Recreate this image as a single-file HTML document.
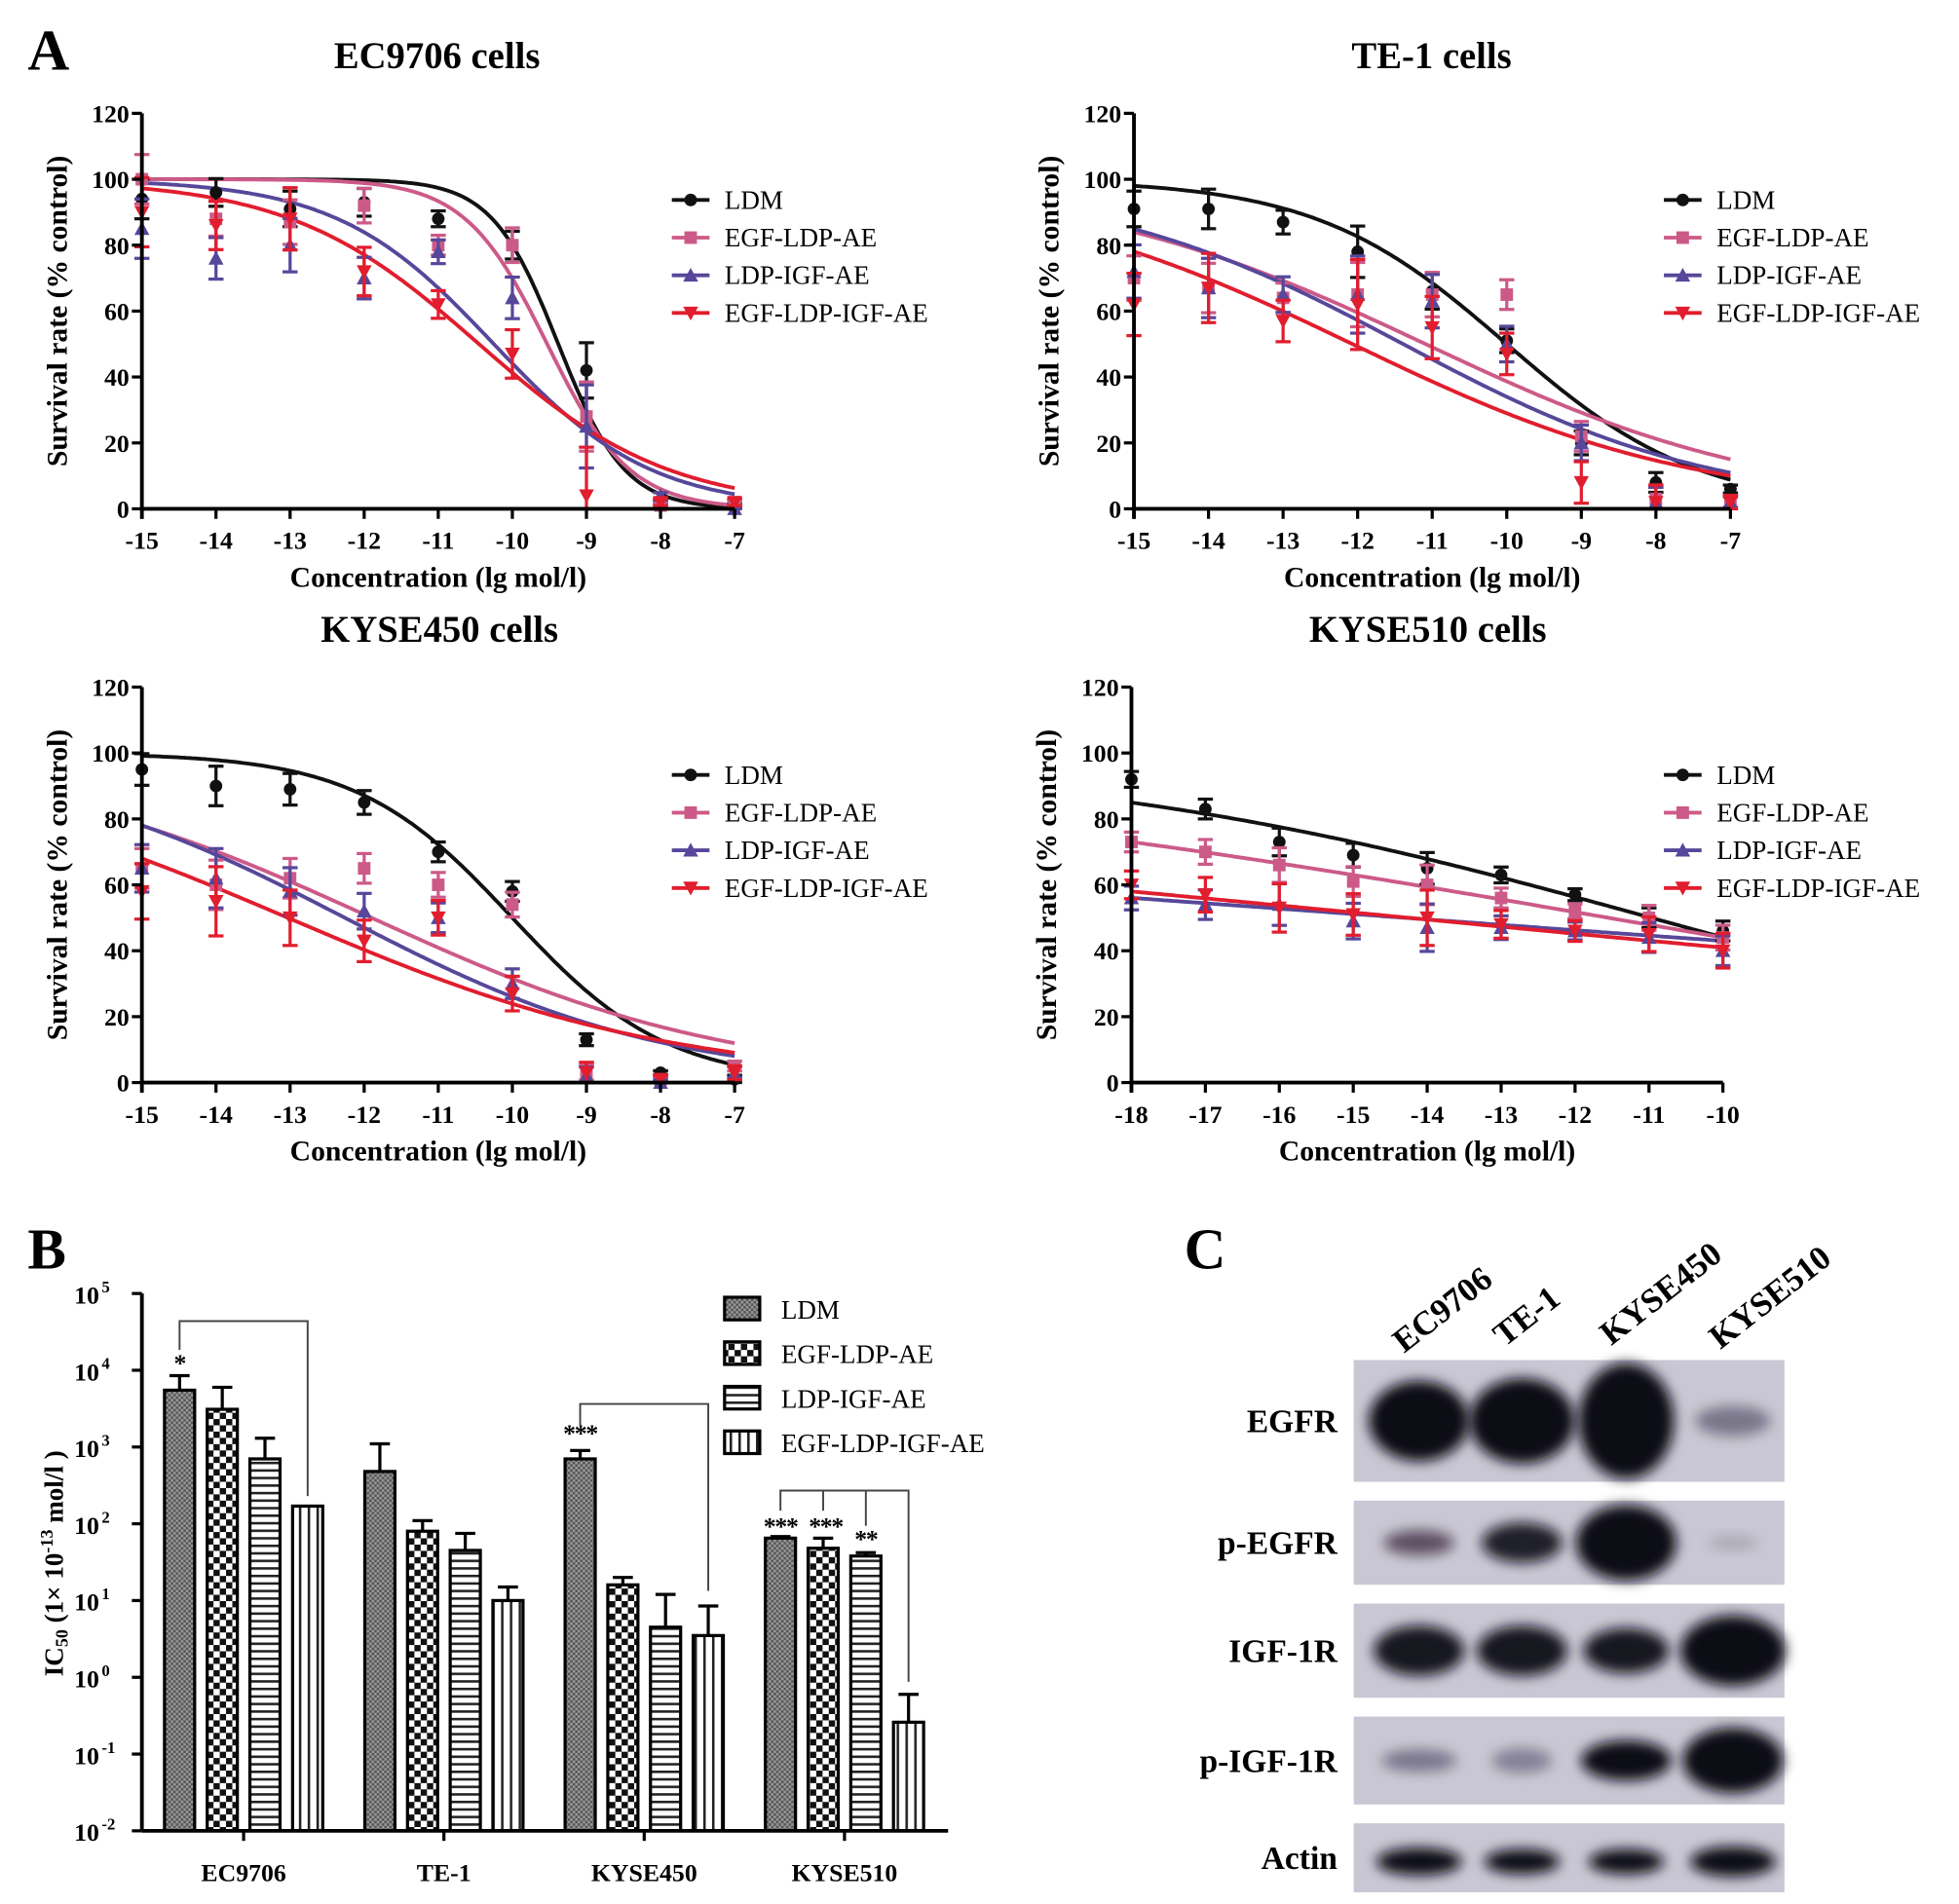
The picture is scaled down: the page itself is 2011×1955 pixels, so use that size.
<!DOCTYPE html>
<html><head><meta charset="utf-8"><style>
html,body{margin:0;padding:0;background:#fff}
svg{display:block}
text{font-family:"Liberation Serif",serif}
</style></head><body>
<svg id="fig" width="2011" height="1955" viewBox="0 0 1560 1516" xmlns="http://www.w3.org/2000/svg">
<defs>
<pattern id="pDots" width="4" height="4" patternUnits="userSpaceOnUse"><rect width="4" height="4" fill="#999"/><rect width="2" height="2" fill="#555"/><rect x="2" y="2" width="2" height="2" fill="#555"/></pattern>
<pattern id="pCheck" width="10" height="10" patternUnits="userSpaceOnUse"><rect width="10" height="10" fill="#fff"/><rect width="5" height="5" fill="#111"/><rect x="5" y="5" width="5" height="5" fill="#111"/></pattern>
<pattern id="pH" width="6" height="6" patternUnits="userSpaceOnUse"><rect width="6" height="6" fill="#fff"/><rect width="6" height="2" fill="#222"/></pattern>
<pattern id="pV" width="7" height="7" patternUnits="userSpaceOnUse"><rect width="7" height="7" fill="#fff"/><rect width="2" height="7" fill="#222"/></pattern>
<filter id="blur" x="-50%" y="-50%" width="200%" height="200%"><feGaussianBlur stdDeviation="5"/></filter>
</defs>
<g id="root"></g>
</svg>
<script>
// ---- Panel A data ----
const seriesNames = ["LDM","EGF-LDP-AE","LDP-IGF-AE","EGF-LDP-IGF-AE"];
const seriesColors = ["#111111","#cc5a88","#57479a","#e11d2e"];
const xTicksA = [-15,-14,-13,-12,-11,-10,-9,-8,-7];
const xTicksD = [-18,-17,-16,-15,-14,-13,-12,-11,-10];
const yTicksA = [0,20,40,60,80,100,120];
// EC9706 points
const ec_LDM = [94,96,91,93,88,80,42,2,1];
const ec_EGF = [100,88,87,92,80,80,28,1,2];
const ec_IGF = [85,76,80,70,78,64,25,4,0];
const ec_BOTH = [90,86,88,72,62,47,4,2,2];
const ec_err = [10,7,9,7,4,7,14,1,1];
// fit params [logEC50, hill]
const ec_fit = [[-9.38,0.97],[-9.53,0.78],[-10.25,0.41],[-10.45,0.34]];
// TE-1
const te_LDM = [91,91,87,78,66,51,20,8,6];
const te_EGF = [70,67,64,65,65,65,22,3,2];
const te_IGF = [72,67,65,65,63,50,20,2,2];
const te_BOTH = [62,67,57,62,55,47,8,2,2];
const te_err = [9,10,6,13,9,6,6,5,2];
const te_fit = [[-10,0.338],[-11.09,0.184],[-11.39,0.2075],[-12.07,0.188]];
// KYSE450
const k4_LDM = [95,90,89,85,70,58,13,3,1];
const k4_EGF = [65,60,62,65,60,54,3,1,5];
const k4_IGF = [65,62,58,52,50,30,2,0,3];
const k4_BOTH = [58,55,50,43,50,27,3,1,3];
const k4_err = [8,10,8,6,5,5,3,1,2];
const k4_fit = [[-10,0.415],[-11.9,0.177],[-12.26,0.201],[-13.03,0.166]];
// KYSE510
const k5_LDM = [92,83,73,69,65,63,57,50,46];
const k5_EGF = [73,70,66,61,60,56,52,50,44];
const k5_IGF = [56,54,54,49,47,47,46,44,40];
const k5_BOTH = [60,57,53,51,50,48,46,45,40];
const k5_err = [4,5,7,6,8,4,3,5,5];
const k5_fit = [[-10.97,0.107],[-11.55,0.067],[-14.3,0.0285],[-14.25,0.0374]];
// ---- Panel B data ----
const barGroups = ["EC9706","TE-1","KYSE450","KYSE510"];
const bar_LDM = [5500,480,700,65];
const bar_EGF = [3100,80,16,48];
const bar_IGF = [700,45,4.5,38];
const bar_BOTH = [170,10,3.5,0.26];
const barErr_LDM = [8500,1100,900,68];
const barErr_EGF = [6000,110,20,65];
const barErr_IGF = [1300,75,12,42];
const barErr_BOTH = [170,15,8.5,0.6];
const yTicksB = [-2,-1,0,1,2,3,4,5];
// ---- Panel C data ----
const blotRows = ["EGFR","p-EGFR","IGF-1R","p-IGF-1R","Actin"];
const blotLanes = ["EC9706","TE-1","KYSE450","KYSE510"];
const blot_EGFR = [1.0,1.0,1.0,0.4];
const blot_pEGFR = [0.6,0.9,1.0,0.15];
const blot_IGF1R = [0.95,0.95,0.95,1.0];
const blot_pIGF1R = [0.4,0.35,1.0,1.0];
const blot_Actin = [1.0,1.0,1.0,1.0];

const NS="http://www.w3.org/2000/svg";
const root=document.getElementById('root');
function el(tag,attrs,parent,txt){const e=document.createElementNS(NS,tag);for(const k in attrs)e.setAttribute(k,attrs[k]);if(txt!==undefined)e.textContent=txt;(parent||root).appendChild(e);return e;}
function fit(x,p){return 100/(1+Math.pow(10,(x-p[0])*p[1]));}

function marker(g,shape,cx,cy,color){
  let m;
  if(shape===0)m=el('circle',{cx:cx,cy:cy,r:5,fill:color},g);
  else if(shape===1)m=el('rect',{x:cx-5,y:cy-5,width:10,height:10,fill:color},g);
  else if(shape===2)m=el('polygon',{points:`${cx},${cy-6} ${cx+6},${cy+5} ${cx-6},${cy+5}`,fill:color},g);
  else m=el('polygon',{points:`${cx},${cy+6} ${cx+6},${cy-5} ${cx-6},${cy-5}`,fill:color},g);
  return m;
}

function curvePanel(o){
  const g=el('g',{});
  
  
  const xmin=o.ticks[0],xmax=o.ticks[o.ticks.length-1];
  const X=v=>o.x0+(v-xmin)/(xmax-xmin)*(o.x1-o.x0);
  const Y=v=>o.y0-(v/120)*(o.y0-o.y1);
  const t=el('text',{x:o.tx,y:o.ty,'text-anchor':'middle','font-size':30,'font-weight':'bold'},g,o.title);
  
  o.series.forEach((s,i)=>{
    let d='';
    for(let k=0;k<=200;k++){const xv=xmin+(xmax-xmin)*k/200;d+=(k?'L':'M')+X(xv).toFixed(1)+','+Y(fit(xv,o.fits[i])).toFixed(1);}
    const p=el('path',{d:d,fill:'none',stroke:seriesColors[i],'stroke-width':3},g);
    
    
  });
  o.series.forEach((s,i)=>{
    s.forEach((v,j)=>{
      const cx=X(o.ticks[j]),cy=Y(v),e=o.err[j]*(0.6+0.15*i);
      el('line',{x1:cx,x2:cx,y1:Y(v+e),y2:Y(Math.max(0,v-e)),stroke:seriesColors[i],'stroke-width':2.5},g);
      el('line',{x1:cx-6,x2:cx+6,y1:Y(v+e),y2:Y(v+e),stroke:seriesColors[i],'stroke-width':2.5},g);
      el('line',{x1:cx-6,x2:cx+6,y1:Y(Math.max(0,v-e)),y2:Y(Math.max(0,v-e)),stroke:seriesColors[i],'stroke-width':2.5},g);
      const m=marker(g,i,cx,cy,seriesColors[i]);
      
      
    });
  });
  el('line',{x1:o.x0,x2:o.x0,y1:o.y0+8,y2:o.y1,stroke:'#000','stroke-width':3},g);
  el('line',{x1:o.x0,x2:o.x1,y1:o.y0,y2:o.y0,stroke:'#000','stroke-width':3},g);
  yTicksA.forEach(v=>{
    el('line',{x1:o.x0-8,x2:o.x0,y1:Y(v),y2:Y(v),stroke:'#000','stroke-width':2.5},g);
    const tl=el('text',{x:o.x0-10,y:Y(v)+7,'text-anchor':'end','font-size':20,'font-weight':'bold'},g,String(v));
    
  });
  o.ticks.forEach(v=>{
    el('line',{x1:X(v),x2:X(v),y1:o.y0,y2:o.y0+8,stroke:'#000','stroke-width':2.5},g);
    const tl=el('text',{x:X(v),y:o.y0+32,'text-anchor':'middle','font-size':20,'font-weight':'bold'},g,String(v));
    
  });
  const xt=el('text',{x:(o.x0+o.x1)/2,y:o.y0+62,'text-anchor':'middle','font-size':23,'font-weight':'bold'},g,'Concentration (lg mol/l)');
  
  const yc=(o.y0+o.y1)/2,yx=o.x0-60;
  const yt=el('text',{x:yx,y:yc,'text-anchor':'middle','font-size':23,'font-weight':'bold',transform:`rotate(-90 ${yx} ${yc})`},g,'Survival rate (% control)');
  
  seriesNames.forEach((n,i)=>{
    const ly=o.ly+i*30;
    const lg=el('g',{},g);
    
    el('line',{x1:o.lx,x2:o.lx+30,y1:ly,y2:ly,stroke:seriesColors[i],'stroke-width':3},lg);
    marker(lg,i,o.lx+15,ly,seriesColors[i]);
    el('text',{x:o.lx+42,y:ly+7,'font-size':21},lg,n);
  });
}
curvePanel({name:'ec9706-chart',title:'EC9706 cells',tx:348,ty:54,x0:113,x1:585,y0:405,y1:90,ticks:xTicksA,series:[ec_LDM,ec_EGF,ec_IGF,ec_BOTH],err:ec_err,fits:ec_fit,lx:535,ly:159});
curvePanel({name:'te1-chart',title:'TE-1 cells',tx:1140,ty:54,x0:903,x1:1378,y0:405,y1:90,ticks:xTicksA,series:[te_LDM,te_EGF,te_IGF,te_BOTH],err:te_err,fits:te_fit,lx:1325,ly:159});
curvePanel({name:'kyse450-chart',title:'KYSE450 cells',tx:350,ty:511,x0:113,x1:585,y0:862,y1:547,ticks:xTicksA,series:[k4_LDM,k4_EGF,k4_IGF,k4_BOTH],err:k4_err,fits:k4_fit,lx:535,ly:617});
curvePanel({name:'kyse510-chart',title:'KYSE510 cells',tx:1137,ty:511,x0:901,x1:1372,y0:862,y1:547,ticks:xTicksD,series:[k5_LDM,k5_EGF,k5_IGF,k5_BOTH],err:k5_err,fits:k5_fit,lx:1325,ly:617});

[['A',22,55],['B',22,1010],['C',943,1010]].forEach(a=>{
  const t=el('text',{x:a[1],y:a[2],'font-size':46,'font-weight':'bold'},root,a[0]);
  
});

// ---- Panel B ----
(function(){
  const g=el('g',{});
  
  const x0=113,x1=755,y0=1458,yT=1030;
  const Y=v=>y0-(Math.log10(v)+2)/7*(y0-yT);
  const centers=barGroups.map((_,i)=>194+i*159.5);
  const offs=[-51,-17,17,51];
  const fills=['url(#pDots)','url(#pCheck)','url(#pH)','url(#pV)'];
  const vals=[bar_LDM,bar_EGF,bar_IGF,bar_BOTH];
  const errs=[barErr_LDM,barErr_EGF,barErr_IGF,barErr_BOTH];
  vals.forEach((arr,s)=>arr.forEach((v,gi)=>{
    const cx=centers[gi]+offs[s];
    const e=errs[s][gi];
    if(e>v){el('line',{x1:cx,x2:cx,y1:Y(v),y2:Y(e),stroke:'#000','stroke-width':2.5},g);
      el('line',{x1:cx-8,x2:cx+8,y1:Y(e),y2:Y(e),stroke:'#000','stroke-width':2.5},g);}
    const r=el('rect',{x:cx-12,y:Y(v),width:24,height:y0-Y(v),fill:fills[s],stroke:'#000','stroke-width':2.5},g);
    
    
  }));
  el('line',{x1:x0,x2:x0,y1:yT,y2:y0,stroke:'#000','stroke-width':3},g);
  el('line',{x1:x0,x2:x1,y1:y0,y2:y0,stroke:'#000','stroke-width':3},g);
  yTicksB.forEach(p=>{
    const y=Y(Math.pow(10,p));
    el('line',{x1:x0-8,x2:x0,y1:y,y2:y,stroke:'#000','stroke-width':2.5},g);
    const t=el('text',{x:x0-34,y:y+8,'text-anchor':'end','font-size':20,'font-weight':'bold'},g,'10');
    
    el('text',{x:x0-32,y:y-1,'font-size':13,'font-weight':'bold'},g,String(p));
  });
  centers.forEach((c,i)=>{
    el('line',{x1:c,x2:c,y1:y0,y2:y0+8,stroke:'#000','stroke-width':2.5},g);
    const t=el('text',{x:c,y:y0+40,'text-anchor':'middle','font-size':20,'font-weight':'bold'},g,barGroups[i]);
    
  });
  const yt=el('text',{x:50,y:1245,'text-anchor':'middle','font-size':21,'font-weight':'bold',transform:'rotate(-90 50 1245)'},g);
  
  yt.innerHTML='IC<tspan font-size="14" dy="4">50</tspan><tspan dy="-4"> (1× 10</tspan><tspan font-size="14" dy="-8">-13</tspan><tspan dy="8"> mol/l )</tspan>';
  const br=(pts)=>el('polyline',{points:pts,fill:'none',stroke:'#444','stroke-width':1.5},g);
  const c0=centers[0],c2=centers[2],c3=centers[3];
  br(`${c0-51},${1075} ${c0-51},1052 ${c0+51},1052 ${c0+51},${Y(bar_BOTH[0])-8}`);
  br(`${c2-51},1135 ${c2-51},1118 ${c2+51},1118 ${c2+51},${Y(barErr_BOTH[2])-12}`);
  br(`${c3-51},1203 ${c3-51},1187 ${c3+51},1187 ${c3+51},${Y(barErr_BOTH[3])-10}`);
  br(`${c3-17},1187 ${c3-17},1203`);br(`${c3+17},1187 ${c3+17},1215`);
  [['*',c0-51,1092],['***',c2-51,1148],['***',c3-51,1222],['***',c3-15,1222],['**',c3+17,1232]].forEach(a=>{
    const t=el('text',{x:a[1],y:a[2],'text-anchor':'middle','font-size':20,'font-weight':'bold','letter-spacing':'-1'},g,a[0]);
    
  });
  seriesNames.forEach((n,i)=>{
    const ly=1042+i*35.5;
    const lg=el('g',{},g);
    
    el('rect',{x:577,y:ly-9,width:28,height:18,fill:fills[i],stroke:'#000','stroke-width':2.5},lg);
    el('text',{x:622,y:ly+8,'font-size':21},lg,n);
  });
})();

// ---- Panel C ----
(function(){
  const g=el('g',{});
  
  const rows=[[1083,1180],[1195,1262],[1277,1352],[1367,1437],[1452,1507]];
  const data=[blot_EGFR,blot_pEGFR,blot_IGF1R,blot_pIGF1R,blot_Actin];
  const lanes=[1130,1212,1295,1380];
  const bw=[[40,42,38,30],[28,32,40,20],[36,36,34,42],[30,24,36,40],[34,30,30,34]];
  const bh=[[32,34,46,12],[10,16,30,6],[20,20,18,28],[9,10,16,26],[11,10,10,12]];
  rows.forEach((r,ri)=>{
    const rg=el('g',{},g);
    
    el('rect',{x:1078,y:r[0],width:343,height:r[1]-r[0],fill:'#cac7d4'},rg);
    const cy=(r[0]+r[1])/2;
    data[ri].forEach((v,li)=>{
      const b=el('ellipse',{cx:lanes[li],cy:cy+(ri===4?3:0),rx:bw[ri][li],ry:bh[ri][li],fill:'#0c0a14','fill-opacity':v,filter:'url(#blur)'},rg);
      
      
    });
    const t=el('text',{x:1065,y:cy+9,'text-anchor':'end','font-size':26,'font-weight':'bold'},g,blotRows[ri]);
    
  });
  [[1118,1078],[1198,1073],[1283,1072],[1370,1075]].forEach((p,i)=>{
    const t=el('text',{x:p[0],y:p[1],'font-size':27,'font-weight':'bold',transform:`rotate(-38 ${p[0]} ${p[1]})`},g,blotLanes[i]);
    
  });
})();
</script>
</body></html>
